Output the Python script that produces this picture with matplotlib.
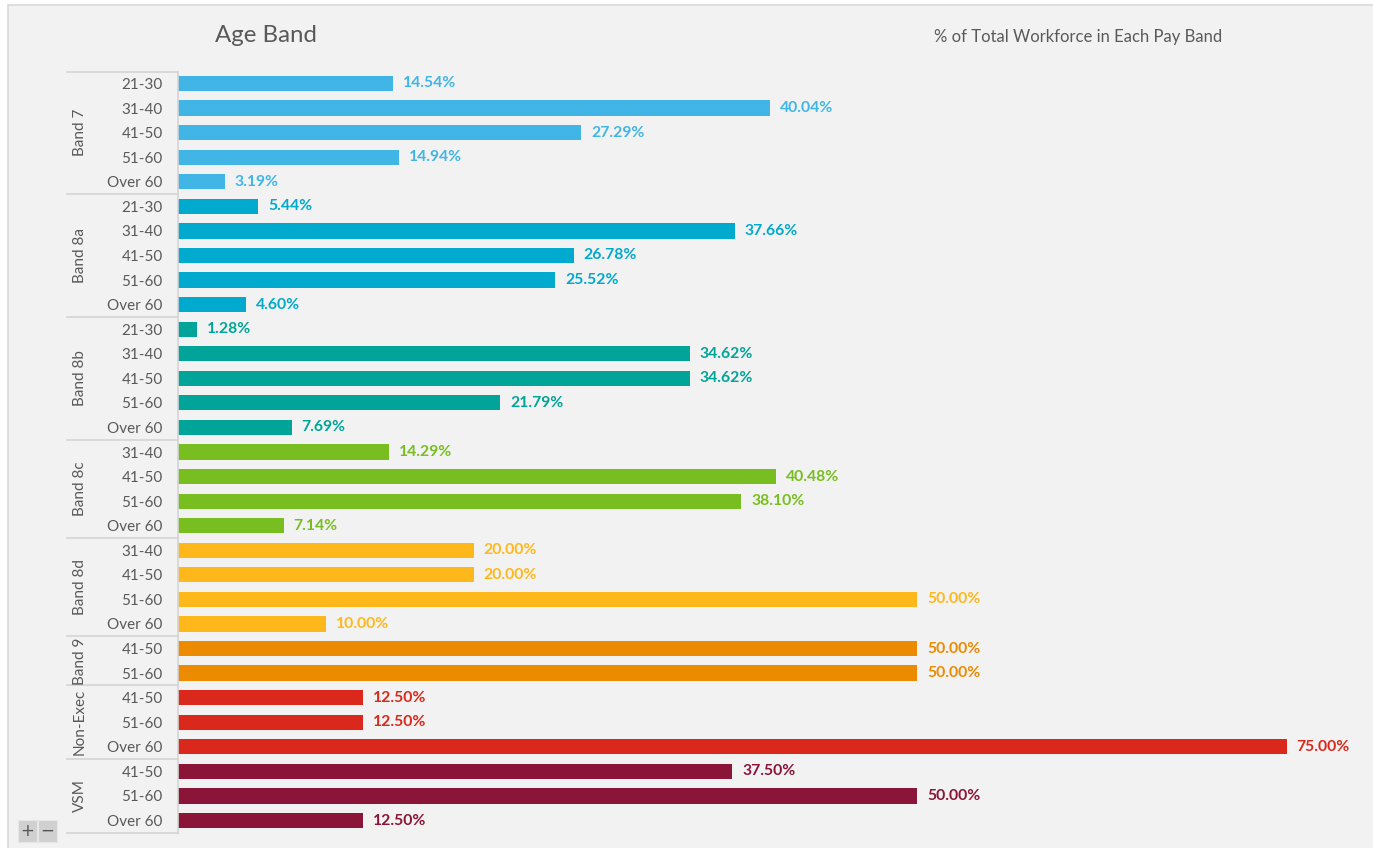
import matplotlib.pyplot as plt
from matplotlib.patches import Rectangle
from matplotlib.transforms import blended_transform_factory

plt.rcParams['font.family'] = ['Lato', 'DejaVu Sans']

# workforce share by pay band and age band (%)
bands = ['Band 7', 'Band 8a', 'Band 8b', 'Band 8c', 'Band 8d', 'Band 9', 'Non-Exec', 'VSM']
ages = [
    ['21-30', '31-40', '41-50', '51-60', 'Over 60'],
    ['21-30', '31-40', '41-50', '51-60', 'Over 60'],
    ['21-30', '31-40', '41-50', '51-60', 'Over 60'],
    ['31-40', '41-50', '51-60', 'Over 60'],
    ['31-40', '41-50', '51-60', 'Over 60'],
    ['41-50', '51-60'],
    ['41-50', '51-60', 'Over 60'],
    ['41-50', '51-60', 'Over 60'],
]
values = [
    [14.54, 40.04, 27.29, 14.94, 3.19],
    [5.44, 37.66, 26.78, 25.52, 4.60],
    [1.28, 34.62, 34.62, 21.79, 7.69],
    [14.29, 40.48, 38.10, 7.14],
    [20.00, 20.00, 50.00, 10.00],
    [50.00, 50.00],
    [12.50, 12.50, 75.00],
    [37.50, 50.00, 12.50],
]
colors = ['#41b6e6', '#00a9ce', '#00a499', '#78be20', '#ffb81c', '#ed8b00', '#da291c', '#8a1538']

W, H = 1373, 848
def fx(px):
    return px / W
def fy(py):
    return 1 - py / H

fig = plt.figure(figsize=(W / 100, H / 100), dpi=100, facecolor='white')
fig.patches.append(Rectangle((fx(8), fy(860)), 1.1, fy(5) - fy(860), transform=fig.transFigure,
                             facecolor='#f2f2f2', edgecolor='#d9d9d9', lw=1.2, zorder=-10))

ax = fig.add_axes([fx(178), fy(833), fx(1345) - fx(178), fy(72) - fy(833)])
ax.set_facecolor('none')

text_grey = '#595959'
line_grey = '#d4d4d4'
trans = blended_transform_factory(fig.transFigure, ax.transData)

row = 0
ticks, labels = [], []
top = -(83.5 - 72) / 24.57
ax.plot([fx(67), fx(178)], [top, top], transform=trans, color=line_grey, lw=1.2, clip_on=False)
for band, age_list, vals, c in zip(bands, ages, values, colors):
    ys = list(range(row, row + len(vals)))
    ax.barh(ys, vals, height=0.62, color=c)
    for y, v in zip(ys, vals):
        ax.annotate(f'{v:.2f}%', (v, y), xytext=(7, 0), textcoords='offset points',
                    va='center', ha='left', color=c, fontsize=11.3, fontweight='bold')
    ticks += ys
    labels += age_list
    mid = (ys[0] + ys[-1]) / 2
    ax.text(fx(80), mid, band, transform=trans, rotation=90, ha='center', va='center',
            color=text_grey, fontsize=11)
    row += len(vals)
    ax.plot([fx(67), fx(178)], [row - 0.5, row - 0.5], transform=trans, color=line_grey,
            lw=1.2, clip_on=False)

ax.set_xlim(0, (1345 - 178) / 14.785)
ax.set_ylim(row - 1 + 12.5 / 24.57, top)
ax.set_yticks(ticks)
ax.set_yticklabels(labels, fontsize=11, color=text_grey)
ax.tick_params(axis='y', length=0, pad=11)
ax.set_xticks([])
for s in ['top', 'right', 'bottom']:
    ax.spines[s].set_visible(False)
ax.spines['left'].set_color(line_grey)
ax.spines['left'].set_linewidth(1.2)

fig.text(fx(215), fy(36), 'Age Band', fontsize=17.3, color=text_grey, ha='left', va='center')
fig.text(fx(934), fy(37), '% of Total Workforce in Each Pay Band', fontsize=12,
         color=text_grey, ha='left', va='center')

# zoom buttons in the bottom corner
for x0, sym in [(18, '+'), (38, '\u2212')]:
    fig.patches.append(Rectangle((fx(x0), fy(842)), fx(19), fy(820) - fy(842),
                                 transform=fig.transFigure, facecolor='#d0d0d0',
                                 edgecolor='#e6e6e6', lw=0.8))
    fig.text(fx(x0 + 9.5), fy(831), sym, ha='center', va='center', fontsize=12,
             color='#555555', family='DejaVu Sans')

fig.savefig('out.png', dpi=100, facecolor=fig.get_facecolor())
